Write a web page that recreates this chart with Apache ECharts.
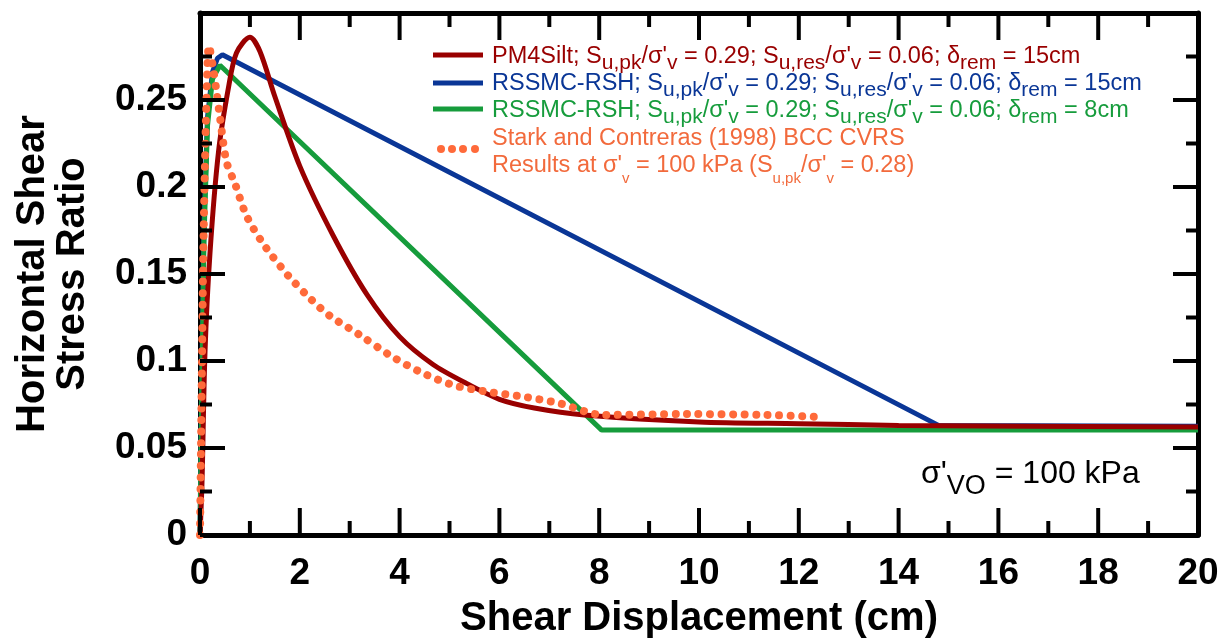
<!DOCTYPE html>
<html>
<head>
<meta charset="utf-8">
<script src="https://cdn.jsdelivr.net/npm/echarts@6/dist/echarts.min.js"></script>
<style>
  html, body { margin: 0; padding: 0; background: #fff; }
  #chart { width: 1225px; height: 642px; }
</style>
</head>
<body>
<div id="chart"></div>
<script>
// values (x = cm, y = stress ratio)
const pm4X = [0, 0.04, 0.1, 0.2, 0.37, 0.57, 0.73, 1.0, 1.2, 1.5, 2.0, 2.67, 3.35, 4.0, 4.67, 5.35, 6.0, 6.7, 7.7, 10, 12, 14, 20];
const pm4Y = [0, 0.03, 0.105, 0.162, 0.22, 0.257, 0.277, 0.286, 0.278, 0.252, 0.212, 0.172, 0.138, 0.114, 0.098, 0.087, 0.078, 0.073, 0.069, 0.065, 0.064, 0.063, 0.062];

const rsh15X = [0, 0.03, 0.08, 0.15, 0.25, 0.35, 0.45, 14.8, 20];
const rsh15Y = [0, 0.08, 0.18, 0.24, 0.266, 0.274, 0.276, 0.063, 0.0625];

const rsh8X = [0, 0.03, 0.08, 0.15, 0.25, 0.4, 8.05, 20];
const rsh8Y = [0, 0.07, 0.17, 0.235, 0.262, 0.27, 0.0603, 0.0603];

const starkX = [0, 0.02, 0.04, 0.06, 0.09, 0.13, 0.18, 0.26, 0.33, 0.4, 0.53, 0.7, 0.94, 1.3, 1.77, 2.24, 2.6, 3.2, 3.8, 4.4, 5.07, 5.74, 6.48, 7.2, 8.08, 9.75, 11.36, 12.4];
const starkY = [0, 0.05, 0.1, 0.15, 0.2, 0.25, 0.281, 0.269, 0.255, 0.24, 0.2146, 0.202, 0.183, 0.166, 0.149, 0.135, 0.126, 0.115, 0.1034, 0.0939, 0.0862, 0.0824, 0.0795, 0.0757, 0.069, 0.0695, 0.069, 0.0678];

const xTicks = [0, 2, 4, 6, 8, 10, 12, 14, 16, 18, 20];
const xMinorTicks = [1, 3, 5, 7, 9, 11, 13, 15, 17, 19];
const yTicks = [0, 0.05, 0.1, 0.15, 0.2, 0.25, 0.3];
const yMinorTicks = [0.025, 0.075, 0.125, 0.175, 0.225, 0.275];

const FONT = "'Liberation Sans', Arial, sans-serif";
const RED = "#990000", BLUE = "#0a3696", GREEN = "#169c3c", ORANGE = "#ff6a3a";

function zip(xs, ys) {
  return xs.map((x, i) => [x, ys[i]]);
}

function rich(color, size, sub, drop) {
  return {
    t: { fontSize: size, fontFamily: FONT, fill: color, lineHeight: 28, verticalAlign: "middle" },
    s: { fontSize: sub, fontFamily: FONT, fill: color, lineHeight: 18, verticalAlign: "bottom", padding: [0, 0, -drop, 0] }
  };
}

function legendText(y, str, color, sub, drop) {
  return {
    type: "text",
    x: 492,
    y: y,
    style: { text: str, rich: rich(color, 23.5, sub || 21, drop || 3), verticalAlign: "middle", fill: color }
  };
}

function legendLine(y, color) {
  return {
    type: "line",
    shape: { x1: 433, y1: y, x2: 483, y2: y },
    style: { stroke: color, lineWidth: 5 }
  };
}

// frame axes: line + labels; the inward ticks are added afterwards from the axis scales
function frameAxis(extra) {
  return Object.assign({
    type: "value",
    axisLine: { show: true, onZero: false, lineStyle: { color: "#000", width: 5 } },
    axisTick: { show: false },
    splitLine: { show: false }
  }, extra);
}

const tickLabel = { fontFamily: FONT, fontSize: 37, fontWeight: "bold", color: "#000" };

const legendGraphics = [
  legendLine(55, RED),
  legendText(57, "{t|PM4Silt; S}{s|u,pk}{t|/σ'}{s|v}{t| = 0.29; S}{s|u,res}{t|/σ'}{s|v}{t| = 0.06; δ}{s|rem}{t| = 15cm}", RED),
  legendLine(83, BLUE),
  legendText(84, "{t|RSSMC-RSH; S}{s|u,pk}{t|/σ'}{s|v}{t| = 0.29; S}{s|u,res}{t|/σ'}{s|v}{t| = 0.06; δ}{s|rem}{t| = 15cm}", BLUE),
  legendLine(109, GREEN),
  legendText(111, "{t|RSSMC-RSH; S}{s|u,pk}{t|/σ'}{s|v}{t| = 0.29; S}{s|u,res}{t|/σ'}{s|v}{t| = 0.06; δ}{s|rem}{t| = 8cm}", GREEN),
  { type: "circle", shape: { cx: 441, cy: 149, r: 4 }, style: { fill: ORANGE } },
  { type: "circle", shape: { cx: 452, cy: 149, r: 4 }, style: { fill: ORANGE } },
  { type: "circle", shape: { cx: 463, cy: 149, r: 4 }, style: { fill: ORANGE } },
  { type: "circle", shape: { cx: 475, cy: 149, r: 4 }, style: { fill: ORANGE } },
  legendText(139, "{t|Stark and Contreras (1998) BCC CVRS}", "#f26a3c"),
  legendText(166, "{t|Results at σ'}{s|v}{t| = 100 kPa (S}{s|u,pk}{t|/σ'}{s|v}{t| = 0.28)}", "#f26a3c", 15, 6),
  {
    type: "text", x: 921, y: 474,
    style: {
      text: "{t|σ'}{s|VO}{t| = 100 kPa}",
      rich: {
        t: { fontSize: 32, fontFamily: FONT, fill: "#000", lineHeight: 36, verticalAlign: "middle" },
        s: { fontSize: 27, fontFamily: FONT, fill: "#000", lineHeight: 24, verticalAlign: "bottom", padding: [0, 0, -8, 0] }
      },
      verticalAlign: "middle"
    }
  }
];

const chart = echarts.init(document.getElementById("chart"));

chart.setOption({
  animation: false,
  grid: { left: 200, right: 27, top: 13, bottom: 107, outerBoundsMode: "none" },
  xAxis: [
    frameAxis({
      min: 0, max: 20, interval: 2, position: "bottom",
      axisLabel: Object.assign({ margin: 20, customValues: xTicks }, tickLabel),
      name: "Shear Displacement (cm)",
      nameLocation: "middle",
      nameGap: 61,
      nameTextStyle: { fontFamily: FONT, fontSize: 40, fontWeight: "bold", color: "#000", lineHeight: 44 }
    }),
    frameAxis({ min: 0, max: 20, interval: 2, position: "top", axisLabel: { show: false } })
  ],
  yAxis: [
    frameAxis({
      min: 0, max: 0.3, interval: 0.05, position: "left",
      axisLabel: Object.assign({
        margin: 13,
        formatter: (v) => (v > 0.29 ? "" : String(+v.toFixed(2)))
      }, tickLabel),
      name: "Horizontal Shear\nStress Ratio",
      nameLocation: "middle",
      nameGap: 107,
      nameRotate: 90,
      nameTextStyle: { fontFamily: FONT, fontSize: 40, fontWeight: "bold", color: "#000", lineHeight: 40 }
    }),
    frameAxis({ min: 0, max: 0.3, interval: 0.05, position: "right", axisLabel: { show: false } })
  ],
  series: [
    {
      name: "RSSMC-RSH 15cm", type: "line", data: zip(rsh15X, rsh15Y),
      showSymbol: false, lineStyle: { color: BLUE, width: 5 }
    },
    {
      name: "RSSMC-RSH 8cm", type: "line", data: zip(rsh8X, rsh8Y),
      showSymbol: false, lineStyle: { color: GREEN, width: 5 }
    },
    {
      name: "PM4Silt", type: "line", data: zip(pm4X, pm4Y),
      showSymbol: false, smooth: 0.3,
      lineStyle: { color: RED, width: 5 }
    },
    {
      name: "Stark and Contreras (1998)", type: "line", data: zip(starkX, starkY),
      showSymbol: false, smooth: 0.3,
      lineStyle: { color: ORANGE, width: 8, type: [0.01, 11.5], cap: "round" }
    }
  ],
  graphic: legendGraphics
});

// inward ticks on all four sides, placed through the chart's own scales
const toPx = (pt) => chart.convertToPixel({ gridIndex: 0 }, pt);
const tickLines = [];
function addTick(p, dx, dy) {
  tickLines.push({
    type: "line", z: 100, silent: true,
    shape: { x1: p[0], y1: p[1], x2: p[0] + dx, y2: p[1] + dy },
    style: { stroke: "#000", lineWidth: 4 }
  });
}
xTicks.forEach((v) => { addTick(toPx([v, 0]), 0, -27); addTick(toPx([v, 0.3]), 0, 27); });
xMinorTicks.forEach((v) => { addTick(toPx([v, 0]), 0, -14); addTick(toPx([v, 0.3]), 0, 14); });
yTicks.forEach((v) => { addTick(toPx([0, v]), 25, 0); addTick(toPx([20, v]), -25, 0); });
yMinorTicks.forEach((v) => { addTick(toPx([0, v]), 12, 0); addTick(toPx([20, v]), -12, 0); });

chart.setOption({ graphic: legendGraphics.concat(tickLines) });
</script>
</body>
</html>
